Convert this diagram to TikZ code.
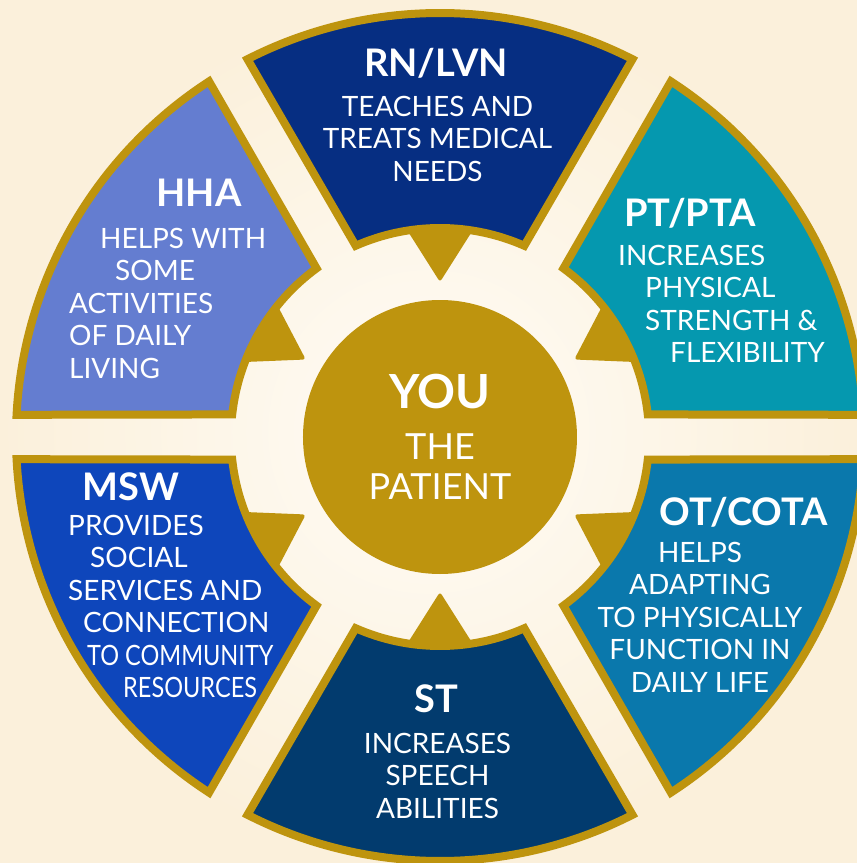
\documentclass[tikz,border=0pt]{standalone}
\usepackage{fontspec}
\setmainfont{Lato}

\definecolor{gold}{RGB}{190,148,14}
\definecolor{bgin}{RGB}{255,252,246}
\definecolor{bgout}{RGB}{251,240,219}
\definecolor{rnblue}{RGB}{6,46,130}
\definecolor{ptteal}{RGB}{5,152,175}
\definecolor{otblue}{RGB}{10,120,172}
\definecolor{stnavy}{RGB}{2,59,110}
\definecolor{mswblue}{RGB}{14,70,187}
\definecolor{hhablue}{RGB}{100,125,208}

\tikzset{
  sector/.style={draw=gold, line width=8pt},
  pointer/.style={fill=gold, rounded corners=3pt},
  title/.style={text=white, inner sep=0pt, anchor=base, font=\bfseries\fontsize{38}{40}\selectfont},
  body/.style={text=white, inner sep=0pt, font=\fontsize{28}{32.5}\selectfont},
}
\newcommand{\squeeze}[1]{\scalebox{0.84}[1]{#1}}

\begin{document}
\begin{tikzpicture}[x=1pt,y=1pt]
\shade[inner color=bgin, outer color=bgout] (-440,-426) rectangle (417,437);
\useasboundingbox (-440,-426) rectangle (417,437);
% the six segments with their pointers
\foreach \a/\col in {90/rnblue,30/ptteal,-30/otblue,-90/stnavy,210/mswblue,150/hhablue}{
  \fill[pointer, rotate=\a-90] (0,155) -- (38,215) -- (-38,215) -- cycle;
  \filldraw[sector, fill=\col, rotate=\a-90] (66.2:209) -- (63.0:424)
    arc[start angle=63.0, end angle=117.0, radius=424] -- (113.8:209)
    arc[start angle=113.8, end angle=66.2, radius=209] -- cycle;
}
% centre
\node[circle, fill=gold, minimum size=274pt, inner sep=0pt] (patient) at (0,0) {};
\node[text=white, inner sep=0pt, anchor=base, font=\bfseries\fontsize{47}{50}\selectfont] (you) at (0,29) {YOU};
\node[text=white, inner sep=0pt, anchor=base, font=\fontsize{36}{40}\selectfont] (the) at (0,-22) {THE};
\node[text=white, inner sep=0pt, anchor=base, font=\fontsize{36}{40}\selectfont] (pat) at (0,-62) {PATIENT};
% titles
\node[title] (rn) at (-4,360) {RN/LVN};
\node[title] (pt) at (250,211) {PT/PTA};
\node[title] (ot) at (304,-88) {OT/COTA};
\node[title] (st) at (-3.5,-275) {ST};
\node[title] (msw) at (-309,-63) {MSW};
\node[title] (hha) at (-241,230) {HHA};
% texts
\node[body, anchor=north, align=center] (rntext) at (-2.5,341)
  {TEACHES AND\\TREATS MEDICAL\\NEEDS};
\node[body, anchor=north west, align=left] (pttext) at (178,192)
  {INCREASES\\\hspace*{27pt}PHYSICAL\\\hspace*{27pt}STRENGTH \&\\\hspace*{52pt}FLEXIBILITY};
\node[body, anchor=north, align=center] (ottext) at (260,-105)
  {HELPS\\ADAPTING\\TO PHYSICALLY\\FUNCTION IN\\DAILY LIFE};
\node[body, anchor=north, align=center] (sttext) at (-2.5,-296)
  {INCREASES\\SPEECH\\ABILITIES};
\node[body, anchor=north west, align=left] (mswtext) at (-372,-78)
  {PROVIDES\\\hspace*{22pt}SOCIAL\\SERVICES AND\\\hspace*{15pt}CONNECTION\\\hspace*{19pt}\squeeze{TO COMMUNITY}\\\hspace*{55pt}\squeeze{RESOURCES}};
\node[body, anchor=north west, align=left] (hhatext) at (-371,209)
  {\hspace*{31pt}HELPS WITH\\\hspace*{46pt}SOME\\ACTIVITIES\\OF DAILY\\LIVING};
\end{tikzpicture}
\end{document}
